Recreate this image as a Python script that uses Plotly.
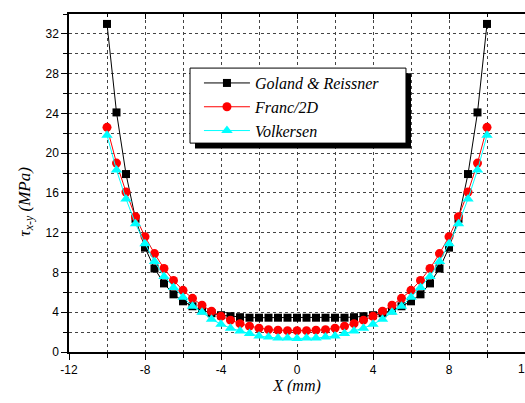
import plotly.graph_objects as go

x_mm = [-10, -9.5, -9, -8.5, -8, -7.5, -7, -6.5, -6, -5.5, -5, -4.5, -4, -3.5, -3, -2.5, -2, -1.5, -1, -0.5,
        0, 0.5, 1, 1.5, 2, 2.5, 3, 3.5, 4, 4.5, 5, 5.5, 6, 6.5, 7, 7.5, 8, 8.5, 9, 9.5, 10]

goland = [33.0, 24.1, 17.9, 13.4, 10.5, 8.4, 6.9, 5.8, 5.1, 4.6, 4.2, 3.9, 3.7, 3.6, 3.5, 3.45, 3.45, 3.45, 3.45, 3.45,
          3.45, 3.45, 3.45, 3.45, 3.45, 3.45, 3.5, 3.6, 3.7, 3.9, 4.2, 4.6, 5.1, 5.8, 6.9, 8.4, 10.5, 13.4, 17.9, 24.1, 33.0]

franc = [22.6, 19.0, 16.1, 13.6, 11.6, 9.9, 8.4, 7.2, 6.2, 5.4, 4.7, 4.1, 3.6, 3.2, 2.85, 2.6, 2.4, 2.25, 2.2, 2.15,
         2.15, 2.15, 2.2, 2.25, 2.4, 2.6, 2.85, 3.2, 3.6, 4.1, 4.7, 5.4, 6.2, 7.2, 8.4, 9.9, 11.6, 13.6, 16.1, 19.0, 22.6]

volkersen = [21.8, 18.3, 15.4, 12.9, 10.9, 9.1, 7.6, 6.5, 5.5, 4.6, 4.0, 3.3, 2.8, 2.4, 2.1, 1.85, 1.6, 1.5, 1.4, 1.4,
             1.35, 1.4, 1.4, 1.5, 1.6, 1.85, 2.1, 2.4, 2.8, 3.3, 4.0, 4.6, 5.5, 6.5, 7.6, 9.1, 10.9, 12.9, 15.4, 18.3, 21.8]

x_tickvals = [-12, -8, -4, 0, 4, 8, 12]
x_ticktext = ["-12", "-8", "-4", "0", "4", "8", "12"]
y_tickvals = [0, 4, 8, 12, 16, 20, 24, 28, 32]
y_ticktext = ["0", "4", "8", "12", "16", "20", "24", "28", "32"]

X_RANGE = [-12, 12]
Y_RANGE = [0, 34]

fig = go.Figure()
fig.add_trace(go.Scatter(x=x_mm, y=goland, mode="lines+markers", name="Goland & Reissner",
                         line=dict(color="black", width=1),
                         marker=dict(symbol="square", size=8, color="black")))
fig.add_trace(go.Scatter(x=x_mm, y=franc, mode="lines+markers", name="Franc/2D",
                         line=dict(color="red", width=1),
                         marker=dict(symbol="circle", size=9, color="red")))
fig.add_trace(go.Scatter(x=x_mm, y=volkersen, mode="lines+markers", name="Volkersen",
                         line=dict(color="cyan", width=1),
                         marker=dict(symbol="triangle-up", size=10, color="cyan")))
# empty trace to make the mirrored top/right axes render
fig.add_trace(go.Scatter(x=[None], y=[None], xaxis="x2", yaxis="y2", showlegend=False, hoverinfo="skip"))

# legend shadow and box (pixel boxes ~ (195,73)-(411,148) and (190,68)-(406,143))
fig.add_shape(type="rect", xref="paper", yref="paper", x0=0.2763, x1=0.75, y0=0.602, y1=0.825,
              fillcolor="black", line=dict(width=0), layer="above")
fig.add_shape(type="rect", xref="paper", yref="paper", x0=0.2654, x1=0.739, y0=0.618, y1=0.840,
              fillcolor="white", line=dict(color="black", width=1), layer="above")

axis_common = dict(showline=True, linecolor="black", linewidth=1.5,
                   ticks="outside", ticklen=6, tickcolor="black", tickwidth=1,
                   showgrid=True, gridcolor="#444", griddash="dot", gridwidth=1,
                   zeroline=False,
                   tickfont=dict(family="Liberation Sans, Arial", size=12, color="black"))

fig.update_layout(
    xaxis=dict(range=X_RANGE, tickvals=x_tickvals, ticktext=x_ticktext,
               minor=dict(dtick=2, tick0=0, showgrid=True, gridcolor="#444", griddash="dot", ticks="outside",
                          ticklen=4, tickcolor="black"),
               title=dict(text="<i>X (mm)</i>", font=dict(family="Liberation Serif, Times New Roman", size=16, color="black"),
                          standoff=4),
               **axis_common),
    yaxis=dict(range=Y_RANGE, tickvals=y_tickvals, ticktext=y_ticktext,
               minor=dict(dtick=2, tick0=0, showgrid=True, gridcolor="#444", griddash="dot", ticks="outside",
                          ticklen=4, tickcolor="black"),
               **axis_common),
    xaxis2=dict(range=X_RANGE, overlaying="x", side="top", tickvals=x_tickvals, showticklabels=False,
                ticks="inside", ticklen=5, tickcolor="black", showgrid=False, zeroline=False,
                showline=True, linecolor="black", linewidth=1.5,
                minor=dict(dtick=2, tick0=0, ticks="inside", ticklen=3, tickcolor="black", showgrid=False)),
    yaxis2=dict(range=Y_RANGE, overlaying="y", side="right", tickvals=y_tickvals, showticklabels=False,
                ticks="inside", ticklen=5, tickcolor="black", showgrid=False, zeroline=False,
                showline=True, linecolor="black", linewidth=1.5,
                minor=dict(dtick=2, tick0=0, ticks="inside", ticklen=3, tickcolor="black", showgrid=False)),
)

# last x tick label sits on the right edge of the page (cut off in the reference)
fig.add_annotation(text=x_ticktext[-1], xref="x", x=x_tickvals[-1], yref="paper", y=0,
                   xanchor="center", yanchor="top", yshift=-8, showarrow=False,
                   font=dict(family="Liberation Sans, Arial", size=12, color="black"))

fig.add_annotation(text="<i>τ<sub>x-y</sub> (MPa)</i>", xref="paper", yref="paper",
                   x=-0.094, y=0.446, xanchor="center", yanchor="middle", textangle=-90,
                   showarrow=False,
                   font=dict(family="Liberation Serif, Times New Roman", size=17, color="black"))

fig.update_layout(
    width=525, height=403,
    margin=dict(l=69, r=0, t=14, b=51),
    paper_bgcolor="white", plot_bgcolor="white",
    showlegend=True,
    legend=dict(x=0.285, y=0.846, xanchor="left", yanchor="top",
                bgcolor="rgba(0,0,0,0)", borderwidth=0,
                font=dict(family="Liberation Serif, Times New Roman", size=16, color="black", style="italic"),
                itemwidth=46, tracegroupgap=0),
)

fig.write_html("out.html")
